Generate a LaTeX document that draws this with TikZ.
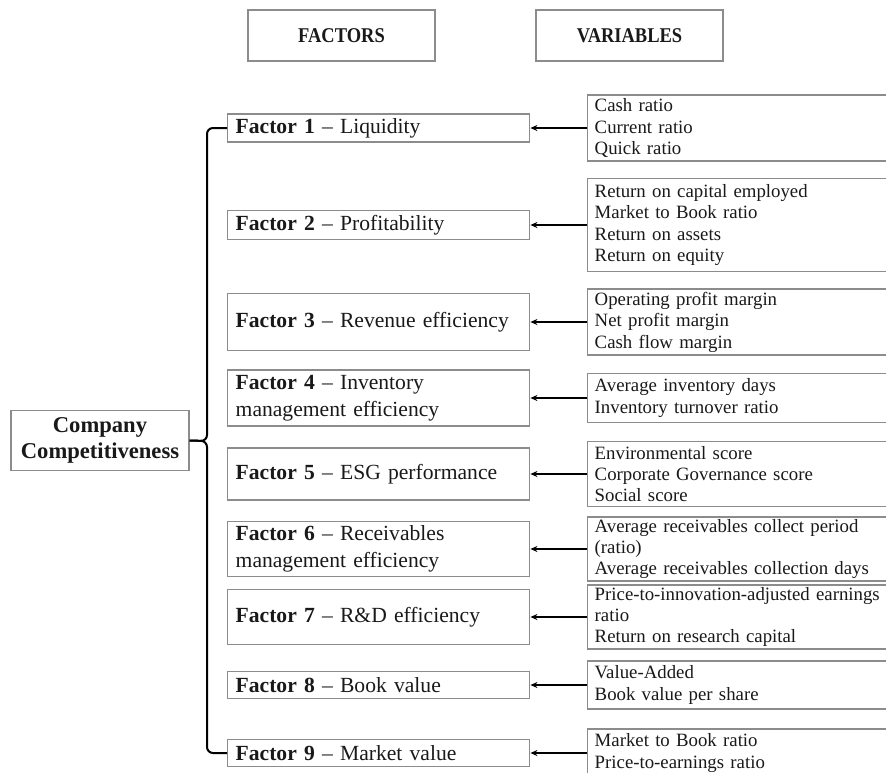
\documentclass[tikz,border=0pt]{standalone}
\usepackage{fontspec}
\setmainfont{Liberation Serif}
\newfontfamily\headfont[FakeStretch=0.88]{Liberation Serif}
\usetikzlibrary{arrows.meta}
\usetikzlibrary{positioning}
\tikzset{box/.style={draw=black!45, line width=0.7pt, text=black!90},
         header/.style={box, minimum width=93.5pt, minimum height=25.5pt,
                        font=\headfont\fontsize{10.5}{12}\selectfont\bfseries},
         factorbox/.style={box, anchor=west, align=left, text width=143pt,
                        inner xsep=4pt, inner ysep=1pt,
                        font=\fontsize{10.8}{13.3}\selectfont},
         varbox/.style={box, anchor=west, align=left, text width=150pt,
                          inner xsep=3.5pt, inner ysep=1pt,
                          font=\fontsize{9.4}{10.7}\selectfont},
         link/.style={-{Stealth[length=3.5pt,width=3pt]}, line width=0.9pt},
         brace/.style={line width=1pt, rounded corners=3pt},
         }

\begin{document}
\begin{tikzpicture}[x=0.5pt, y=-0.5pt]
\clip (0,0) rectangle (886,772);
% headings
\node[header] (hf) at (341.5,35.5) {FACTORS};
\node[header] (hv) at (629.5,35.5) {VARIABLES};
% root
\node[box, minimum width=89pt, minimum height=28.5pt, align=center,
      font=\fontsize{11.3}{13.3}\selectfont\bfseries] (cc) at (100,440.5)
      {Company\\Competitiveness};
% factors
\node[factorbox, minimum height=14pt]   (f1) at (227,128) {\textbf{Factor 1} -- Liquidity};
\node[factorbox, minimum height=14.5pt] (f2) at (227,225) {\textbf{Factor 2} -- Profitability};
\node[factorbox, minimum height=28.5pt] (f3) at (227,322) {\textbf{Factor 3} -- Revenue efficiency};
\node[factorbox, minimum height=28pt]   (f4) at (227,398) {\textbf{Factor 4} -- Inventory\\management efficiency};
\node[factorbox, minimum height=26pt]   (f5) at (227,474) {\textbf{Factor 5} -- ESG performance};
\node[factorbox, minimum height=27.5pt] (f6) at (227,549) {\textbf{Factor 6} -- Receivables\\management efficiency};
\node[factorbox, minimum height=27.5pt] (f7) at (227,617) {\textbf{Factor 7} -- R\&D efficiency};
\node[factorbox, minimum height=13.5pt] (f8) at (227,685) {\textbf{Factor 8} -- Book value};
\node[factorbox, minimum height=13.5pt] (f9) at (227,753) {\textbf{Factor 9} -- Market value};
% variables
\node[varbox, minimum height=33pt]   (v1) at (587,128) {Cash ratio\\Current ratio\\Quick ratio};
\node[varbox, minimum height=46.5pt] (v2) at (587,225) {Return on capital employed\\Market to Book ratio\\Return on assets\\Return on equity};
\node[varbox, minimum height=33pt]   (v3) at (587,322) {Operating profit margin\\Net profit margin\\Cash flow margin};
\node[varbox, minimum height=24.5pt] (v4) at (587,398) {Average inventory days\\Inventory turnover ratio};
\node[varbox, minimum height=32.5pt] (v5) at (587,474) {Environmental score\\Corporate Governance score\\Social score};
\node[varbox, minimum height=31.5pt] (v6) at (587,549) {Average receivables collect period\\(ratio)\\Average receivables collection days};
\node[varbox, minimum height=30pt]   (v7) at (587,617) {Price-to-innovation-adjusted earnings\\ratio\\Return on research capital};
\node[varbox, minimum height=24pt]   (v8) at (587,685) {Value-Added\\Book value per share};
\node[varbox, minimum height=24pt]   (v9) at (587,753) {Market to Book ratio\\Price-to-earnings ratio};
% bracket
\coordinate (tip) at (207,441);
\draw[brace] (f1.west) -| (tip) -- (cc.east);
\draw[brace] (f9.west) -| (tip) -- (cc.east);
% arrows
\foreach \i in {1,...,9}
  \draw[link] (v\i.west) -- (f\i.east);
\end{tikzpicture}
\end{document}
